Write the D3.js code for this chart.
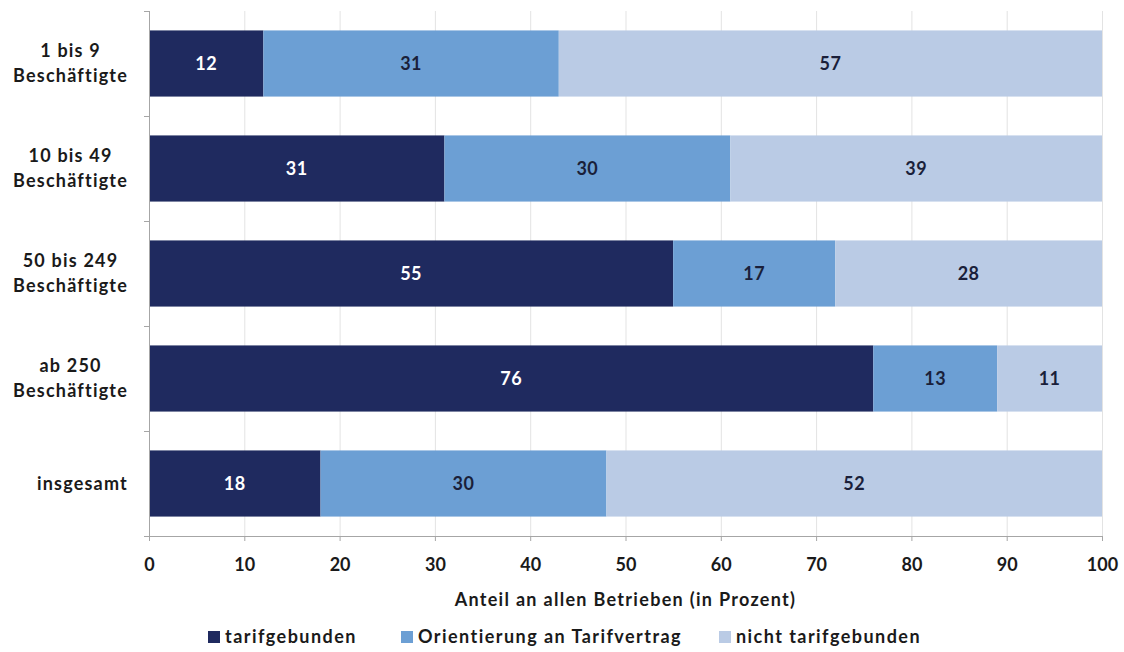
<!DOCTYPE html>
<html>
<head>
<meta charset="utf-8">
<script src="https://cdn.jsdelivr.net/npm/d3@7"></script>
<style>
  html, body { margin: 0; padding: 0; background: #ffffff; }
  svg { display: block; font-family: Lato, "Open Sans", sans-serif; font-weight: 700; }
</style>
</head>
<body>
<svg id="chart" width="1124" height="652"></svg>
<script>
// Betriebsgrößenklassen (each entry may hold several lines)
const categories = [
  ["1 bis 9", "Beschäftigte"],
  ["10 bis 49", "Beschäftigte"],
  ["50 bis 249", "Beschäftigte"],
  ["ab 250", "Beschäftigte"],
  ["insgesamt"]
];
const seriesNames = ["tarifgebunden", "Orientierung an Tarifvertrag", "nicht tarifgebunden"];
const tarifgebunden = [12, 31, 55, 76, 18];
const orientierung = [31, 30, 17, 13, 30];
const nichtTarifgebunden = [57, 39, 28, 11, 52];
const xTicks = [0, 10, 20, 30, 40, 50, 60, 70, 80, 90, 100];
const axisTitle = "Anteil an allen Betrieben (in Prozent)";

const colors = ["#1f2a5f", "#6c9fd4", "#bacbe5"];
const labelColors = ["#ffffff", "#1a1f3a", "#1a1f3a"];

const svg = d3.select("#chart");
const margin = { left: 149, right: 22, top: 11, bottom: 116 };
const W = 1124, H = 652;
const plotW = W - margin.left - margin.right;
const plotH = H - margin.top - margin.bottom;

const keys = categories.map((c, i) => i);
const rows = keys.map(i => ({
  key: i,
  s0: tarifgebunden[i],
  s1: orientierung[i],
  s2: nichtTarifgebunden[i]
}));
const stacked = d3.stack().keys(["s0", "s1", "s2"])(rows);

const x = d3.scaleLinear().domain([0, 100]).range([0, plotW]);
const y = d3.scaleBand().domain(keys).range([0, plotH]).paddingInner(0.37).paddingOuter(0.185);

const g = svg.append("g").attr("transform", `translate(${margin.left},${margin.top})`);

// vertical gridlines
g.append("g").selectAll("line")
  .data(xTicks.filter(t => t > 0))
  .join("line")
  .attr("x1", d => x(d) + 0.5).attr("x2", d => x(d) + 0.5)
  .attr("y1", 0).attr("y2", plotH)
  .attr("stroke", "#e3e3e3").attr("stroke-width", 1);

// stacked bars
const layers = g.append("g").selectAll("g")
  .data(stacked)
  .join("g")
  .attr("fill", (d, i) => colors[i]);

layers.selectAll("rect")
  .data(d => d)
  .join("rect")
  .attr("x", d => x(d[0]))
  .attr("y", d => y(d.data.key))
  .attr("width", d => x(d[1]) - x(d[0]))
  .attr("height", y.bandwidth());

// value labels
stacked.forEach((layer, li) => {
  g.append("g").selectAll("text")
    .data(layer)
    .join("text")
    .attr("x", d => x((d[0] + d[1]) / 2))
    .attr("y", d => y(d.data.key) + y.bandwidth() / 2)
    .attr("dy", "0.36em")
    .attr("text-anchor", "middle")
    .attr("fill", labelColors[li])
    .attr("font-size", 18)
    .attr("letter-spacing", 0.5)
    .text(d => d[1] - d[0]);
});

// bottom axis
const xAxis = d3.axisBottom(x).tickValues(xTicks).tickSize(5).tickPadding(17);
const xg = g.append("g").attr("transform", `translate(0,${plotH})`).call(xAxis);
xg.select(".domain").attr("stroke", "#a6a6a6").attr("d", `M-5,0.5H${plotW}`);
xg.selectAll(".tick line").attr("stroke", "#a6a6a6");
xg.selectAll(".tick text").attr("fill", "#1a1a1a").attr("font-size", 18)
  .attr("font-family", "Lato, sans-serif").attr("font-weight", 700);

// left axis with ticks at category boundaries
const yAxisLine = g.append("g");
yAxisLine.append("line")
  .attr("x1", 0.5).attr("x2", 0.5).attr("y1", 0).attr("y2", plotH)
  .attr("stroke", "#a6a6a6");
const step = y.step();
yAxisLine.selectAll("line.b")
  .data(d3.range(0, categories.length + 1))
  .join("line")
  .attr("class", "b")
  .attr("x1", -5).attr("x2", 0)
  .attr("y1", d => d * step + 0.5).attr("y2", d => d * step + 0.5)
  .attr("stroke", "#a6a6a6");

// category labels: lines centered on each other, block right-aligned
const labelRight = 128 - margin.left;
categories.forEach((lines, i) => {
  const t = g.append("text")
    .attr("font-size", 18)
    .attr("letter-spacing", 1.2)
    .attr("fill", "#1a1a1a");
  const lh = 25;
  const cy = y(i) + y.bandwidth() / 2;
  const spans = lines.map((ln, j) => t.append("tspan")
    .attr("y", cy + (j - (lines.length - 1) / 2) * lh)
    .attr("dy", "0.36em")
    .text(ln));
  const widths = spans.map(s => s.node().getComputedTextLength());
  const maxW = d3.max(widths);
  spans.forEach(s => s.attr("x", labelRight - maxW / 2).attr("text-anchor", "middle"));
});

// axis title
svg.append("text")
  .attr("x", margin.left + plotW / 2)
  .attr("y", 600)
  .attr("dy", "0.36em")
  .attr("text-anchor", "middle")
  .attr("font-size", 18)
  .attr("letter-spacing", 1.3)
  .attr("fill", "#1a1a1a")
  .text(axisTitle);

// legend
const legendX = [208, 401, 719];
const legend = svg.append("g").attr("transform", "translate(0,637)");
seriesNames.forEach((name, i) => {
  legend.append("rect")
    .attr("x", legendX[i]).attr("y", -6)
    .attr("width", 12).attr("height", 12)
    .attr("fill", colors[i]);
  legend.append("text")
    .attr("x", legendX[i] + 17).attr("y", 0)
    .attr("dy", "0.36em")
    .attr("font-size", 18)
    .attr("letter-spacing", 1.45)
    .attr("fill", "#1a1a1a")
    .text(name);
});
</script>
</body>
</html>
